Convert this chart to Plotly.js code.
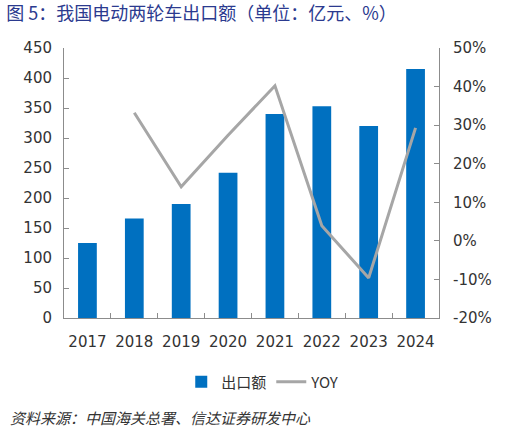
<!DOCTYPE html>
<html>
<head>
<meta charset="utf-8">
<script src="https://cdn.plot.ly/plotly-3.0.1.min.js"></script>
<style>
  body { margin: 0; background: #fff; }
  #chart { width: 518px; height: 436px; }
</style>
</head>
<body>
<div id="chart"></div>
<script>
// data
var years = ["2017", "2018", "2019", "2020", "2021", "2022", "2023", "2024"];
var exportValue = [125, 166, 190, 242, 340, 353, 320, 415];   // 亿元
var yoy = [null, 33.2, 14.0, 27.4, 40.2, 3.9, -9.6, 29.3];      // %
var leftTicks = [0, 50, 100, 150, 200, 250, 300, 350, 400, 450];
var rightTicks = [-20, -10, 0, 10, 20, 30, 40, 50];
var rightLabels = rightTicks.map(function (v) { return v + "%"; });

var tickFont = { family: "DejaVu Sans, Verdana, sans-serif", size: 15, color: "#333" };

var data = [
  {
    type: "bar",
    name: "出口额",
    x: years,
    y: exportValue,
    marker: { color: "#0070C0" },
    yaxis: "y"
  },
  {
    type: "scatter",
    mode: "lines",
    name: "YOY",
    x: years,
    y: yoy,
    line: { color: "#A6A6A6", width: 3 },
    yaxis: "y2"
  }
];

var layout = {
  width: 518,
  height: 436,
  margin: { l: 64, r: 79, t: 48, b: 118 },
  paper_bgcolor: "#fff",
  plot_bgcolor: "#fff",
  bargap: 0.6,
  showlegend: true,
  title: {
    text: "图 5：我国电动两轮车出口额（单位：亿元、%）",
    font: { family: "Noto Sans CJK SC", size: 18, color: "#2B3A8F" },
    x: 0.012, xanchor: "left",
    y: 0.968, yanchor: "middle"
  },
  xaxis: {
    type: "category",
    showline: true,
    linecolor: "#8c8c8c",
    linewidth: 1,
    ticks: "inside",
    tickson: "boundaries",
    ticklen: 5,
    tickcolor: "#8c8c8c",
    tickangle: 0,
    ticklabelstandoff: 10,
    tickfont: tickFont,
    showgrid: false
  },
  yaxis: {
    range: [0, 450],
    tickvals: leftTicks,
    showline: true,
    linecolor: "#8c8c8c",
    ticks: "inside",
    ticklen: 5,
    tickcolor: "#8c8c8c",
    ticklabelstandoff: 8,
    tickfont: tickFont,
    showgrid: false,
    zeroline: false
  },
  yaxis2: {
    overlaying: "y",
    side: "right",
    range: [-20, 50],
    tickvals: rightTicks,
    ticktext: rightLabels,
    showline: true,
    linecolor: "#8c8c8c",
    ticks: "inside",
    ticklen: 5,
    tickcolor: "#8c8c8c",
    ticklabelstandoff: 10,
    tickfont: tickFont,
    showgrid: false,
    zeroline: false
  },
  legend: {
    orientation: "h",
    x: 0.53, xanchor: "center",
    y: -0.237, yanchor: "middle",
    font: { family: "Noto Sans CJK SC, DejaVu Sans", size: 15, color: "#333" }
  },
  annotations: [
    {
      text: "<i>资料来源：中国海关总署、信达证券研发中心</i>",
      xref: "paper", yref: "paper",
      x: -0.149, xanchor: "left",
      y: -0.37, yanchor: "middle",
      showarrow: false,
      font: { family: "Noto Sans CJK SC", size: 15, color: "#333" }
    }
  ]
};

Plotly.newPlot("chart", data, layout, { displayModeBar: false, staticPlot: true });
</script>
</body>
</html>
